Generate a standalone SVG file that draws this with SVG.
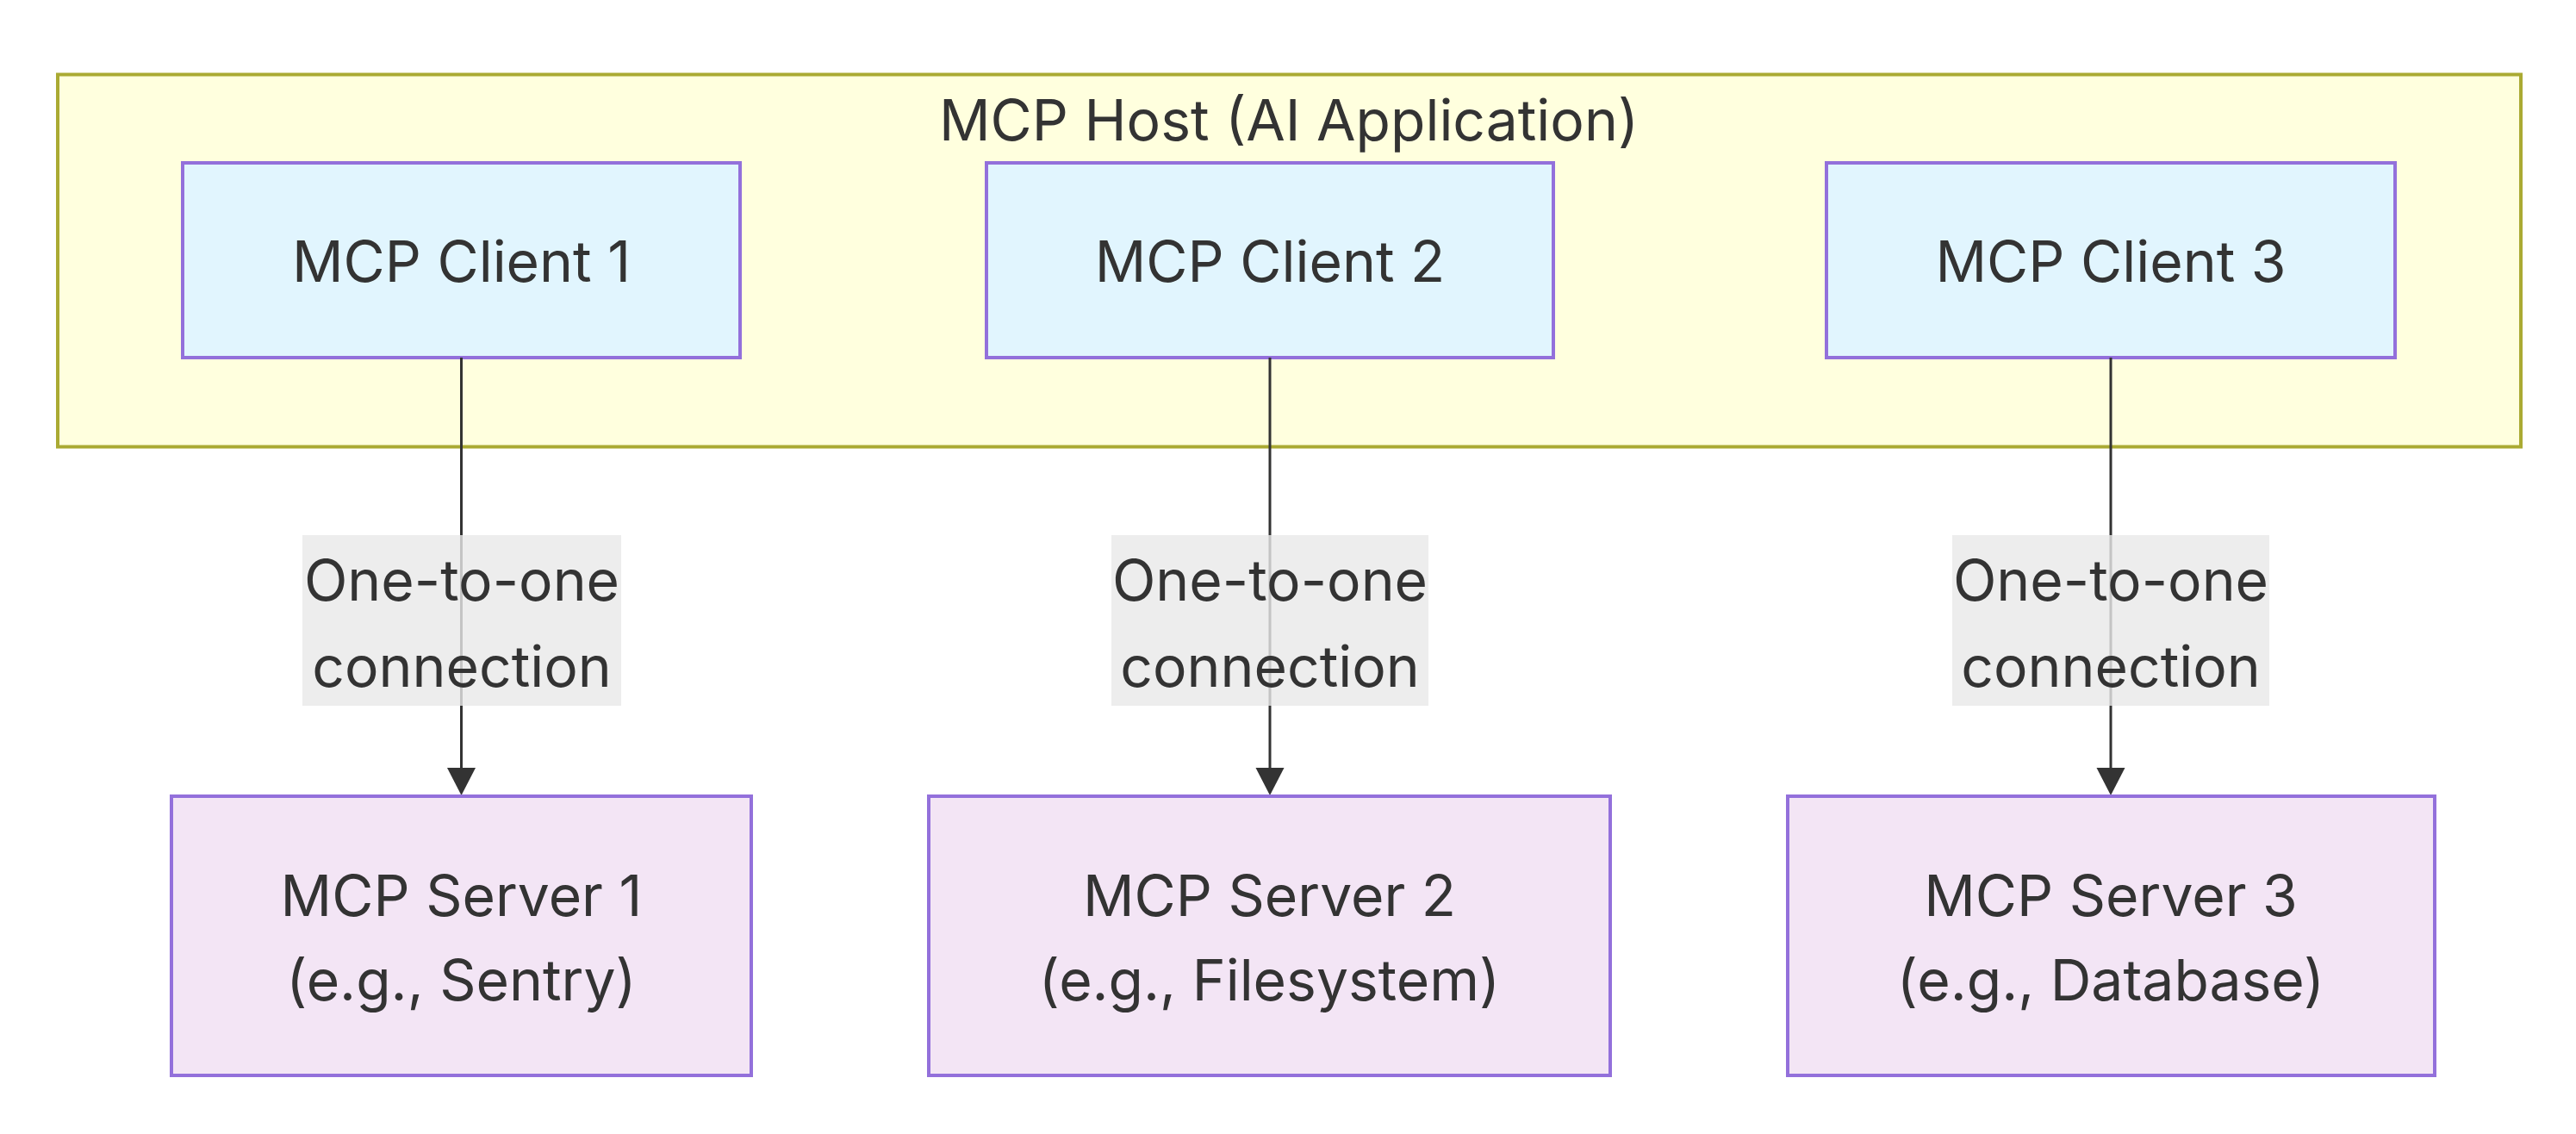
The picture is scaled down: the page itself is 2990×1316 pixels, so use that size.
<svg xmlns="http://www.w3.org/2000/svg" width="2990" height="1316" viewBox="0 0 2990 1316">
<style>
  text { font-family: Inter, "Noto Sans", "Liberation Sans", sans-serif; fill: #333333; font-size: 66px; text-anchor: middle; }
  .host { fill: #ffffde; stroke: #aaaa33; stroke-width: 4; }
  .client { fill: #e1f5fe; stroke: #9370db; stroke-width: 4; }
  .server { fill: #f3e5f5; stroke: #9370db; stroke-width: 4; }
  .edge { stroke: #333333; stroke-width: 3; fill: none; }
  .lbl { fill: #e8e8e8; fill-opacity: 0.8; }
</style>
<defs>
  <marker id="arrow" markerUnits="userSpaceOnUse" markerWidth="34" markerHeight="34" refX="0" refY="16.5" orient="auto">
    <path d="M0,0 L32,16.5 L0,33 z" fill="#333333"/>
  </marker>
</defs>
<rect width="2990" height="1316" fill="#ffffff"/>
<g id="host">
  <rect class="host" x="67" y="86.5" width="2859" height="432"/>
  <text x="1496" y="163">MCP Host (AI Application)</text>
</g>
<g id="client1">
  <rect class="client" x="212" y="189" width="647" height="226"/>
  <text x="535.5" y="327">MCP Client 1</text>
</g>
<g id="client2">
  <rect class="client" x="1145" y="189" width="658" height="226"/>
  <text x="1474" y="327">MCP Client 2</text>
</g>
<g id="client3">
  <rect class="client" x="2120" y="189" width="660" height="226"/>
  <text x="2450" y="327">MCP Client 3</text>
</g>
<g id="connectors">
  <line class="edge" x1="535.5" y1="415" x2="535.5" y2="891" marker-end="url(#arrow)"/>
  <line class="edge" x1="1474" y1="415" x2="1474" y2="891" marker-end="url(#arrow)"/>
  <line class="edge" x1="2450" y1="415" x2="2450" y2="891" marker-end="url(#arrow)"/>
  <g id="label1">
    <rect class="lbl" x="351" y="621" width="370" height="198"/>
    <text x="536" y="697">One-to-one</text>
    <text x="536" y="797">connection</text>
  </g>
  <g id="label2">
    <rect class="lbl" x="1290" y="621" width="368" height="198"/>
    <text x="1474" y="697">One-to-one</text>
    <text x="1474" y="797">connection</text>
  </g>
  <g id="label3">
    <rect class="lbl" x="2266" y="621" width="368" height="198"/>
    <text x="2450" y="697">One-to-one</text>
    <text x="2450" y="797">connection</text>
  </g>
</g>
<g id="server1">
  <rect class="server" x="199" y="924" width="673" height="324"/>
  <text x="535.5" y="1063">MCP Server 1</text>
  <text x="535.5" y="1161">(e.g., Sentry)</text>
</g>
<g id="server2">
  <rect class="server" x="1078" y="924" width="791" height="324"/>
  <text x="1473.5" y="1063">MCP Server 2</text>
  <text x="1473.5" y="1161">(e.g., Filesystem)</text>
</g>
<g id="server3">
  <rect class="server" x="2075" y="924" width="751" height="324"/>
  <text x="2450" y="1063">MCP Server 3</text>
  <text x="2450" y="1161">(e.g., Database)</text>
</g>
</svg>
